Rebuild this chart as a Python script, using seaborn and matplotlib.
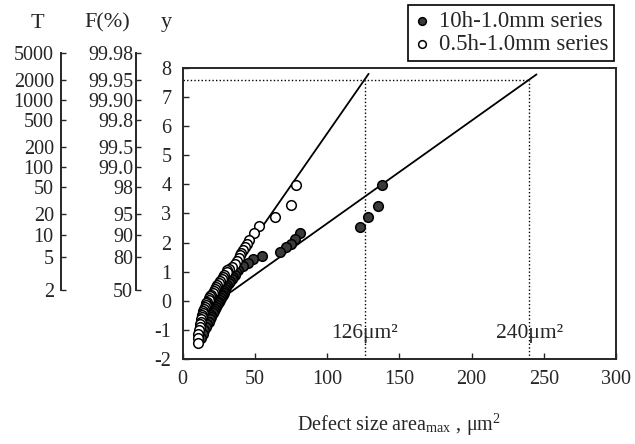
import numpy as np
import pandas as pd
import seaborn as sns
import matplotlib
matplotlib.use("Agg")
import matplotlib.pyplot as plt

# 10h-1.0mm series (filled)
x_10h = [138, 135.4, 128.5, 122.8, 81.3, 77.8, 74.8, 71.6, 67.4, 54.8, 49, 45, 42, 38.6,
         37, 36, 35, 34, 33, 32, 31, 30, 29.5, 29, 28.5, 28, 27, 26.5, 26, 25, 24.5,
         24, 23, 22.5, 22, 21, 20, 19.5, 19, 18, 17, 16, 15, 14, 13]
y_10h = [3.97, 3.27, 2.87, 2.55, 2.32, 2.11, 1.95, 1.84, 1.69, 1.55, 1.44, 1.30, 1.20, 1.06,
         0.98, 0.90, 0.82, 0.75, 0.68, 0.60, 0.53, 0.46, 0.40, 0.33, 0.27, 0.21, 0.15, 0.09,
         0.03, -0.03, -0.09, -0.15, -0.21, -0.28, -0.35, -0.42, -0.49, -0.56, -0.64, -0.72,
         -0.81, -0.91, -1.01, -1.13, -1.27]

# 0.5h-1.0mm series (open)
x_05h = [78.5, 75, 64, 53, 49.4, 46.2, 44.5, 43.5, 42, 40.5, 40, 39, 38, 36, 34, 32, 31,
         30.5, 29, 28, 27, 26, 25.5, 24, 23, 22.5, 22, 21, 20, 19, 18.5, 18, 17, 16.5, 16,
         15.5, 15, 14.5, 14, 13.5, 13.5, 13, 12.5, 12, 12, 11.5, 11, 11, 10.7]
y_05h = [3.98, 3.29, 2.87, 2.56, 2.33, 2.10, 1.95, 1.85, 1.75, 1.65, 1.56, 1.47, 1.38, 1.25,
         1.17, 1.10, 1.05, 0.98, 0.90, 0.82, 0.75, 0.68, 0.60, 0.53, 0.46, 0.40, 0.33, 0.27,
         0.21, 0.15, 0.09, 0.03, -0.03, -0.09, -0.15, -0.21, -0.28, -0.35, -0.42, -0.49,
         -0.56, -0.64, -0.72, -0.81, -0.91, -1.01, -1.13, -1.27, -1.44]

# fitted lines (end points)
fit_10h_x = [30.5, 245]
fit_10h_y = [0.2, 7.78]
fit_05h_x = [20, 128.8]
fit_05h_y = [0.03, 7.8]

# return period / probability scales
T_vals = [5000, 2000, 1000, 500, 200, 100, 50, 20, 10, 5, 2]
F_labels = ["99.98", "99.95", "99.90", "99.8", "99.5", "99.0", "98", "95", "90", "80", "50"]

y_target = 7.6
area_marks = [126, 240]
area_labels = ["126\u03bcm\u00b2", "240\u03bcm\u00b2"]

sns.set_style("ticks")
plt.rcParams['font.family'] = ['Liberation Serif', 'DejaVu Serif']
plt.rcParams['mathtext.fontset'] = 'stix'
plt.rcParams['axes.unicode_minus'] = False
plt.rcParams['font.size'] = 14.5

W, H = 635, 444
fig = plt.figure(figsize=(W / 100, H / 100), dpi=100)

left, right, top, bot = 182.5, 616, 68, 359
ax = fig.add_axes([left / W, 1 - bot / H, (right - left) / W, (bot - top) / H])

df10 = pd.DataFrame({"x": x_10h, "y": y_10h})
df05 = pd.DataFrame({"x": x_05h, "y": y_05h})

sns.lineplot(x=fit_10h_x, y=fit_10h_y, ax=ax, color="black", lw=1.3)
sns.lineplot(x=fit_05h_x, y=fit_05h_y, ax=ax, color="black", lw=1.3)
sns.scatterplot(data=df10, x="x", y="y", ax=ax, color="#3a3a3a", edgecolor="black",
                s=48, linewidth=1.1, label="10h-1.0mm series", zorder=3)
sns.scatterplot(data=df05, x="x", y="y", ax=ax, color="white", edgecolor="black",
                s=48, linewidth=1.1, label="0.5h-1.0mm series", zorder=4)

dot = (0, (1, 1.6))
ax.plot([0, area_marks[1]], [y_target, y_target], color="black", lw=1, ls=dot)
for xm, lab in zip(area_marks, area_labels):
    ax.plot([xm, xm], [-2, y_target], color="black", lw=1, ls=dot)
    ax.text(xm, -1.14, lab, ha="center", va="center", fontsize=15.5)

ax.set_xlim(0, 300)
ax.set_ylim(-2, 8)
ax.set_xticks(range(0, 301, 50))
ax.set_yticks(range(-2, 9))
ax.tick_params(axis="x", direction="in", length=4, width=1, labelsize=14.5, pad=8)
ax.tick_params(axis="y", direction="in", length=4, width=1, labelsize=14.5, pad=8)
for s in ax.spines.values():
    s.set_linewidth(1.4)
    s.set_visible(True)
ax.set_xlabel("Defect size area$_{\\mathregular{max}}$ , \u03bcm$^{\\mathregular{2}}$",
              fontsize=14.5, labelpad=16)
ax.set_ylabel("")

ax.legend(loc="upper right", bbox_to_anchor=(614 / W, 1 - 5 / H),
          bbox_transform=fig.transFigure, frameon=True, fancybox=False,
          edgecolor="black", framealpha=1, borderaxespad=0, handletextpad=0.4,
          borderpad=0.25, labelspacing=0.1, handlelength=0.7, markerscale=0.8,
          fontsize=16.5).get_frame().set_linewidth(1.2)

# T and F scales on the left
gumbel = [-np.log(-np.log(1 - 1 / t)) for t in T_vals]
ext_top = 40
ytop = 8 + (top - ext_top) / ((bot - top) / 10)
for xpos, labels, pd_ in [(60.7, [str(t) for t in T_vals], 5), (136, F_labels, 2)]:
    a = fig.add_axes([xpos / W, 1 - bot / H, 0.0001, (bot - ext_top) / H])
    a.set_ylim(-2, ytop)
    a.set_xticks([])
    for k in ["top", "right", "bottom"]:
        a.spines[k].set_visible(False)
    a.spines["left"].set_bounds(min(gumbel), max(gumbel))
    a.spines["left"].set_linewidth(1.4)
    a.set_yticks(gumbel)
    a.set_yticklabels(labels)
    a.tick_params(direction="in", length=3.5, width=1, labelsize=14.5, pad=pd_)
    a.patch.set_alpha(0)

fig.text(37 / W, 1 - 23 / H, "T", ha="center", va="center", fontsize=16)
fig.text(107 / W, 1 - 23 / H, "F(%)", ha="center", va="center", fontsize=16)
fig.text(166 / W, 1 - 23 / H, "y", ha="center", va="center", fontsize=16)

fig.savefig("out.png", dpi=100)
